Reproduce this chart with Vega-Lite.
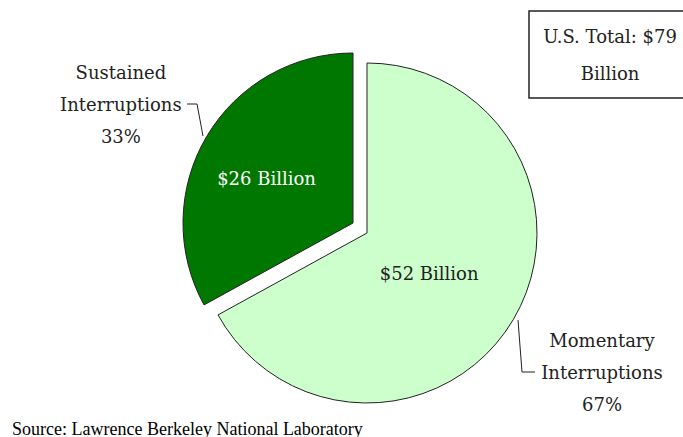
{
  "$schema": "https://vega.github.io/schema/vega-lite/v6.json",
  "width": 683,
  "height": 437,
  "autosize": {"type": "fit", "contains": "padding"},
  "padding": 0,
  "background": "white",
  "config": {"view": {"stroke": null}},
  "data": {"values": [
    {"cat": "Momentary", "ord": 1, "pct": 67, "amount": "$52 Billion", "label": "Momentary\nInterruptions\n67%"},
    {"cat": "Sustained", "ord": 2, "pct": 33, "amount": "$26 Billion", "label": "Sustained\nInterruptions\n33%"}
  ]},
  "layer": [
    {
      "mark": {"type": "arc", "x": 367, "y": 233, "radius": 170, "stroke": "#222222", "strokeWidth": 1},
      "encoding": {
        "theta": {"field": "pct", "type": "quantitative", "stack": true},
        "order": {"field": "ord"},
        "color": {"field": "cat", "type": "nominal", "scale": {"domain": ["Momentary", "Sustained"], "range": ["#ccffcc", "#007800"]}, "legend": null},
        "opacity": {"condition": {"test": "datum.cat === 'Momentary'", "value": 1}, "value": 0}
      }
    },
    {
      "mark": {"type": "arc", "x": 353, "y": 223, "radius": 170, "stroke": "#222222", "strokeWidth": 1},
      "encoding": {
        "theta": {"field": "pct", "type": "quantitative", "stack": true},
        "order": {"field": "ord"},
        "color": {"field": "cat", "type": "nominal", "scale": {"domain": ["Momentary", "Sustained"], "range": ["#ccffcc", "#007800"]}, "legend": null},
        "opacity": {"condition": {"test": "datum.cat === 'Sustained'", "value": 1}, "value": 0}
      }
    },
    {
      "mark": {"type": "text", "x": 367, "y": 233, "radius": 74.5, "font": "DejaVu Serif", "fontSize": 18, "color": "#222222", "align": "center", "baseline": "middle", "dx": -2, "dy": 4},
      "encoding": {
        "theta": {"field": "pct", "type": "quantitative", "stack": true},
        "order": {"field": "ord"},
        "detail": {"field": "cat"},
        "text": {"field": "amount"},
        "opacity": {"condition": {"test": "datum.cat === 'Momentary'", "value": 1}, "value": 0}
      }
    },
    {
      "mark": {"type": "text", "x": 353, "y": 223, "radius": 97, "font": "DejaVu Serif", "fontSize": 18, "color": "white", "align": "center", "baseline": "middle", "dx": -3, "dy": 6},
      "encoding": {
        "theta": {"field": "pct", "type": "quantitative", "stack": true},
        "order": {"field": "ord"},
        "detail": {"field": "cat"},
        "text": {"field": "amount"},
        "opacity": {"condition": {"test": "datum.cat === 'Sustained'", "value": 1}, "value": 0}
      }
    },
    {
      "mark": {"type": "text", "x": 367, "y": 233, "radius": 273, "font": "DejaVu Serif", "fontSize": 18, "color": "#222222", "align": "center", "baseline": "middle", "lineBreak": "\n", "lineHeight": 32, "dy": -30},
      "encoding": {
        "theta": {"field": "pct", "type": "quantitative", "stack": true},
        "order": {"field": "ord"},
        "detail": {"field": "cat"},
        "text": {"field": "label"},
        "opacity": {"condition": {"test": "datum.cat === 'Momentary'", "value": 1}, "value": 0}
      }
    },
    {
      "mark": {"type": "text", "x": 353, "y": 223, "radius": 265, "font": "DejaVu Serif", "fontSize": 18, "color": "#222222", "align": "center", "baseline": "middle", "lineBreak": "\n", "lineHeight": 32, "dx": -4, "dy": -14},
      "encoding": {
        "theta": {"field": "pct", "type": "quantitative", "stack": true},
        "order": {"field": "ord"},
        "detail": {"field": "cat"},
        "text": {"field": "label"},
        "opacity": {"condition": {"test": "datum.cat === 'Sustained'", "value": 1}, "value": 0}
      }
    },
    {
      "transform": [{"filter": "datum.ord === 1"}],
      "mark": {"type": "rule", "stroke": "#222222", "strokeWidth": 1},
      "encoding": {"x": {"value": 187}, "y": {"value": 104}, "x2": {"value": 197}, "y2": {"value": 104}}
    },
    {
      "transform": [{"filter": "datum.ord === 1"}],
      "mark": {"type": "rule", "stroke": "#222222", "strokeWidth": 1},
      "encoding": {"x": {"value": 197}, "y": {"value": 104}, "x2": {"value": 203}, "y2": {"value": 136}}
    },
    {
      "transform": [{"filter": "datum.ord === 1"}],
      "mark": {"type": "rule", "stroke": "#222222", "strokeWidth": 1},
      "encoding": {"x": {"value": 518}, "y": {"value": 320}, "x2": {"value": 522}, "y2": {"value": 372}}
    },
    {
      "transform": [{"filter": "datum.ord === 1"}],
      "mark": {"type": "rule", "stroke": "#222222", "strokeWidth": 1},
      "encoding": {"x": {"value": 522}, "y": {"value": 372}, "x2": {"value": 535}, "y2": {"value": 372}}
    },
    {
      "data": {"values": [{"note": "U.S. Total: $79\nBillion"}]},
      "layer": [
        {
          "mark": {"type": "rect", "x": 529, "y": 11, "x2": 693, "y2": 98, "fill": "white", "stroke": "#222222", "strokeWidth": 1.5},
          "encoding": {}
        },
        {
          "mark": {"type": "text", "x": 610, "y": 38, "font": "DejaVu Serif", "fontSize": 18, "color": "#222222", "align": "center", "baseline": "middle", "lineBreak": "\n", "lineHeight": 37},
          "encoding": {"text": {"field": "note"}}
        }
      ]
    },
    {
      "data": {"values": [{"note": "Source: Lawrence Berkeley National Laboratory"}]},
      "mark": {"type": "text", "x": 12, "y": 435, "font": "Liberation Serif", "fontSize": 18, "color": "#000000", "align": "left", "baseline": "alphabetic"},
      "encoding": {"text": {"field": "note"}}
    }
  ]
}
